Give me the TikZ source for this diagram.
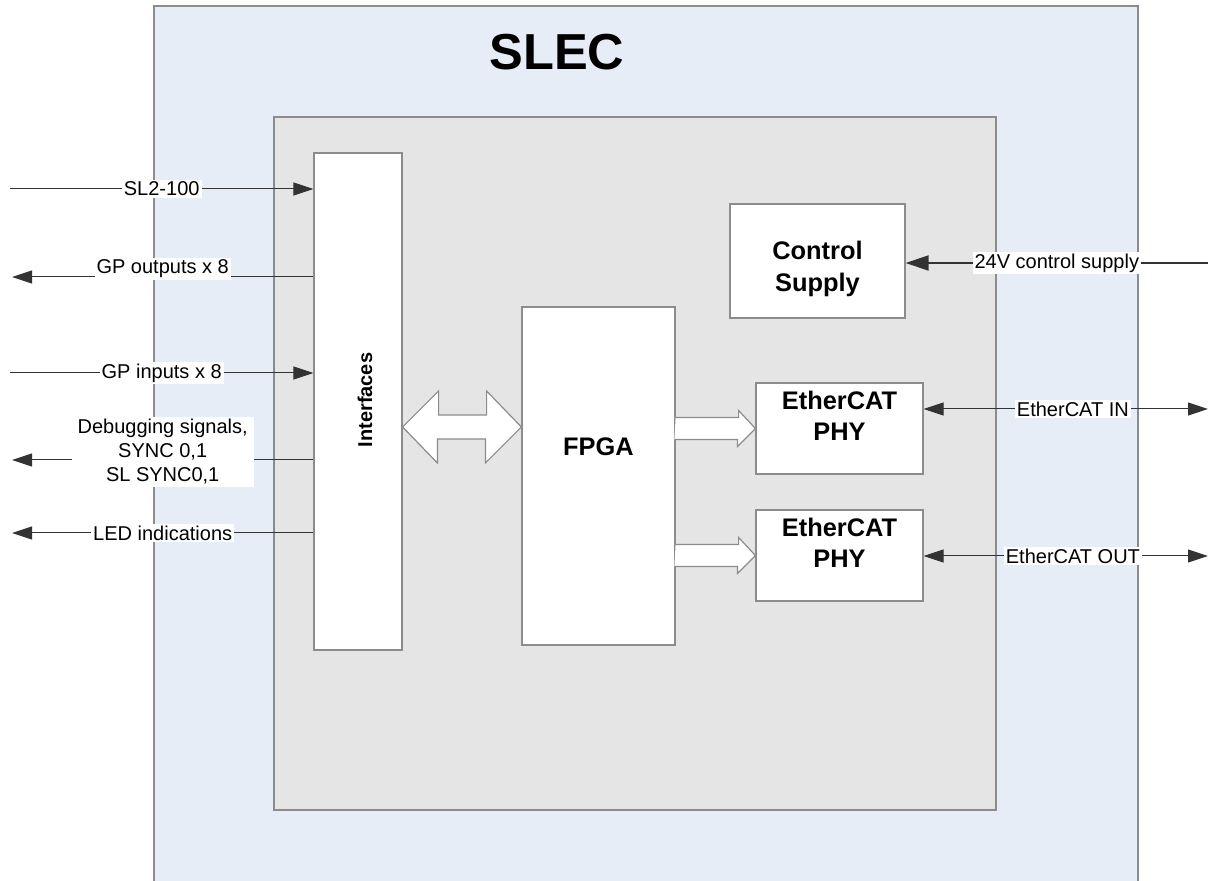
\documentclass[tikz,border=0pt]{standalone}
\usepackage{fontspec}
\setmainfont{Liberation Sans}
\usetikzlibrary{arrows.meta,positioning}

\definecolor{slecblue}{RGB}{230,237,247}
\definecolor{boardgray}{RGB}{229,229,229}
\definecolor{edgegray}{RGB}{140,140,140}

\begin{document}
\begin{tikzpicture}[
    x=0.5pt,y=-0.5pt,
    >={Triangle[length=10pt,width=6.5pt]},
    frame/.style={
        draw=edgegray, line width=0.8pt,
        rectangle,
        inner sep=0pt
    },
    box/.style={
        draw=edgegray, line width=0.6pt,
        rectangle,
        fill=white,
        inner sep=0pt
    },
    boxtext/.style={
        align=center,
        font=\bfseries\fontsize{12.7}{15.5}\selectfont
    },
    wire/.style={
        draw=black!80,
        line width=0.5pt
    },
    sig/.style={
        fill=white,
        inner sep=1pt,
        align=center,
        font=\fontsize{10}{12}\selectfont
    },
    hollow/.style={
        draw=edgegray, line width=0.6pt,
        fill=white
    }
]

\useasboundingbox (0,0) rectangle (1211,881);
\clip (0,0) rectangle (1211,881);

% ====== frames ======
\node[frame, fill=slecblue, minimum width=492pt, minimum height=447pt] (slec) at (646,453) {};
\node[frame, fill=boardgray, minimum width=361pt, minimum height=346.5pt] (board) at (635,463.5) {};
\node[font=\bfseries\fontsize{25.3}{30}\selectfont] (slectitle) at (557,52) {SLEC};

% ====== blocks ======
\node[box, minimum width=44pt, minimum height=248.5pt] (iface) at (358,401.5) {};
\node[boxtext, rotate=90, font=\bfseries\fontsize{10}{12}\selectfont] (ifacetxt) at (365,400) {Interfaces};

\node[box, minimum width=76.5pt, minimum height=169pt] (fpga) at (598.5,476) {};
\node[boxtext] (fpgatxt) at (598.5,447) {FPGA};

\node[box, minimum width=87.5pt, minimum height=57pt] (ctrl) at (817.5,261) {};
\node[boxtext, font=\bfseries\fontsize{12.7}{16}\selectfont] (ctrltxt) at (817.5,269) {Control\\Supply};

\node[box, minimum width=83.5pt, minimum height=45.5pt] (phyin) at (839.5,428.5) {};
\node[boxtext] (phyintxt) at (839.5,416) {EtherCAT\\PHY};

\node[box, minimum width=83.5pt, minimum height=45.5pt] (phyout) at (839.5,555.5) {};
\node[boxtext] (phyouttxt) at (839.5,543) {EtherCAT\\PHY};

% ====== hollow arrows ======
\draw[hollow] (iface.east |- 0,427) -- ++(36,-36) -- ++(0,24) -- ++(48,0) -- ++(0,-24)
    -- (fpga.west |- 0,427) -- ++(-36,36) -- ++(0,-24) -- ++(-48,0) -- ++(0,24) -- cycle;

\draw[hollow] (fpga.east |- phyin) ++(0,-11) -- ++(63,0) -- ++(0,-7) -- (phyin.west)
    -- ++(-18,18) -- ++(0,-7) -- ++(-63,0);
\draw[hollow] (fpga.east |- phyout) ++(0,-11) -- ++(63,0) -- ++(0,-7) -- (phyout.west)
    -- ++(-18,18) -- ++(0,-7) -- ++(-63,0);

% ====== left signals ======
\coordinate (slsrc)    at (10,189);
\coordinate (gpoutdst) at (12,277);
\coordinate (gpinsrc)  at (10,373);
\coordinate (dbgdst)   at (12,460);
\coordinate (leddst)   at (12,533);

\draw[wire,->] (slsrc) -- (iface.west |- slsrc) node[sig, midway] {SL2-100};
\draw[wire,->] (iface.west |- gpoutdst) -- (gpoutdst) node[sig, midway, yshift=4pt] {GP outputs x 8};
\draw[wire,->] (gpinsrc) -- (iface.west |- gpinsrc) node[sig, midway] {GP inputs x 8};
\draw[wire,->] (iface.west |- dbgdst) -- (dbgdst) node[sig, midway, yshift=4pt, inner xsep=3pt] {Debugging signals,\\SYNC 0,1\\SL SYNC0,1};
\draw[wire,->] (iface.west |- leddst) -- (leddst) node[sig, midway] {LED indications};

% ====== right signals ======
\coordinate (supsrc)   at (1208,263);
\coordinate (ecinend)  at (1208,409);
\coordinate (ecoutend) at (1208,556);

\draw[wire, line width=1pt, -{Triangle[length=11.5pt,width=7.5pt]}] (supsrc) -- (ctrl.east |- supsrc) node[sig, midway] {24V control supply};
\draw[wire,<->] (phyin.east |- ecinend) -- (ecinend) node[sig, pos=0.525] {EtherCAT IN};
\draw[wire,<->] (phyout.east |- ecoutend) -- (ecoutend) node[sig, pos=0.525] {EtherCAT OUT};

\end{tikzpicture}
\end{document}
